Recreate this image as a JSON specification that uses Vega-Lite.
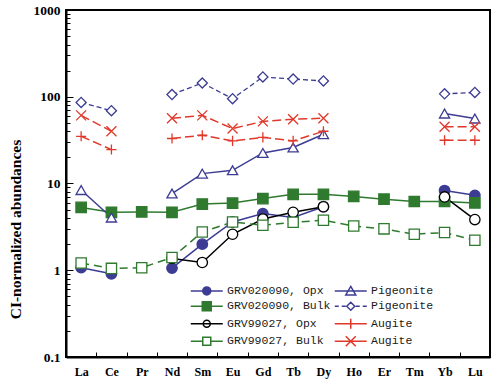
{
  "$schema": "https://vega.github.io/schema/vega-lite/v6.json",
  "width": 424,
  "height": 347,
  "autosize": {"type": "none"},
  "padding": {"left": 66, "top": 10, "right": 10, "bottom": 34},
  "background": "white",
  "config": {
    "view": {"stroke": "black", "strokeWidth": 2},
    "axis": {"domainColor": "black", "domainWidth": 2, "tickColor": "black", "tickWidth": 1, "labelColor": "black", "grid": false}
  },
  "data": {
    "values": [
      {"el": "La", "n": 57, "s": "GRV020090, Opx", "seg": 1, "v": 1.07},
      {"el": "Ce", "n": 58, "s": "GRV020090, Opx", "seg": 1, "v": 0.91},
      {"el": "Nd", "n": 60, "s": "GRV020090, Opx", "seg": 2, "v": 1.06},
      {"el": "Sm", "n": 62, "s": "GRV020090, Opx", "seg": 2, "v": 2.0},
      {"el": "Eu", "n": 63, "s": "GRV020090, Opx", "seg": 2, "v": 3.6},
      {"el": "Gd", "n": 64, "s": "GRV020090, Opx", "seg": 2, "v": 4.5},
      {"el": "Tb", "n": 65, "s": "GRV020090, Opx", "seg": 2, "v": 4.05},
      {"el": "Dy", "n": 66, "s": "GRV020090, Opx", "seg": 2, "v": 5.4},
      {"el": "Yb", "n": 70, "s": "GRV020090, Opx", "seg": 3, "v": 8.3},
      {"el": "Lu", "n": 71, "s": "GRV020090, Opx", "seg": 3, "v": 7.3},

      {"el": "La", "n": 57, "s": "GRV020090, Bulk", "seg": 1, "v": 5.3},
      {"el": "Ce", "n": 58, "s": "GRV020090, Bulk", "seg": 1, "v": 4.66},
      {"el": "Pr", "n": 59, "s": "GRV020090, Bulk", "seg": 1, "v": 4.7},
      {"el": "Nd", "n": 60, "s": "GRV020090, Bulk", "seg": 1, "v": 4.66},
      {"el": "Sm", "n": 62, "s": "GRV020090, Bulk", "seg": 1, "v": 5.8},
      {"el": "Eu", "n": 63, "s": "GRV020090, Bulk", "seg": 1, "v": 5.95},
      {"el": "Gd", "n": 64, "s": "GRV020090, Bulk", "seg": 1, "v": 6.7},
      {"el": "Tb", "n": 65, "s": "GRV020090, Bulk", "seg": 1, "v": 7.5},
      {"el": "Dy", "n": 66, "s": "GRV020090, Bulk", "seg": 1, "v": 7.5},
      {"el": "Ho", "n": 67, "s": "GRV020090, Bulk", "seg": 1, "v": 7.1},
      {"el": "Er", "n": 68, "s": "GRV020090, Bulk", "seg": 1, "v": 6.6},
      {"el": "Tm", "n": 69, "s": "GRV020090, Bulk", "seg": 1, "v": 6.2},
      {"el": "Yb", "n": 70, "s": "GRV020090, Bulk", "seg": 1, "v": 6.2},
      {"el": "Lu", "n": 71, "s": "GRV020090, Bulk", "seg": 1, "v": 5.97},

      {"el": "Nd", "n": 60, "s": "GRV99027, Opx", "seg": 2, "v": 1.37},
      {"el": "Sm", "n": 62, "s": "GRV99027, Opx", "seg": 2, "v": 1.23},
      {"el": "Eu", "n": 63, "s": "GRV99027, Opx", "seg": 2, "v": 2.6},
      {"el": "Gd", "n": 64, "s": "GRV99027, Opx", "seg": 2, "v": 3.9},
      {"el": "Tb", "n": 65, "s": "GRV99027, Opx", "seg": 2, "v": 4.66},
      {"el": "Dy", "n": 66, "s": "GRV99027, Opx", "seg": 2, "v": 5.4},
      {"el": "Yb", "n": 70, "s": "GRV99027, Opx", "seg": 3, "v": 7.0},
      {"el": "Lu", "n": 71, "s": "GRV99027, Opx", "seg": 3, "v": 3.84},

      {"el": "La", "n": 57, "s": "GRV99027, Bulk", "seg": 1, "v": 1.21},
      {"el": "Ce", "n": 58, "s": "GRV99027, Bulk", "seg": 1, "v": 1.05},
      {"el": "Pr", "n": 59, "s": "GRV99027, Bulk", "seg": 1, "v": 1.07},
      {"el": "Nd", "n": 60, "s": "GRV99027, Bulk", "seg": 1, "v": 1.4},
      {"el": "Sm", "n": 62, "s": "GRV99027, Bulk", "seg": 1, "v": 2.76},
      {"el": "Eu", "n": 63, "s": "GRV99027, Bulk", "seg": 1, "v": 3.6},
      {"el": "Gd", "n": 64, "s": "GRV99027, Bulk", "seg": 1, "v": 3.3},
      {"el": "Tb", "n": 65, "s": "GRV99027, Bulk", "seg": 1, "v": 3.57},
      {"el": "Dy", "n": 66, "s": "GRV99027, Bulk", "seg": 1, "v": 3.77},
      {"el": "Ho", "n": 67, "s": "GRV99027, Bulk", "seg": 1, "v": 3.24},
      {"el": "Er", "n": 68, "s": "GRV99027, Bulk", "seg": 1, "v": 3.0},
      {"el": "Tm", "n": 69, "s": "GRV99027, Bulk", "seg": 1, "v": 2.6},
      {"el": "Yb", "n": 70, "s": "GRV99027, Bulk", "seg": 1, "v": 2.72},
      {"el": "Lu", "n": 71, "s": "GRV99027, Bulk", "seg": 1, "v": 2.22},

      {"el": "La", "n": 57, "s": "Pigeonite|1", "seg": 1, "v": 8.4},
      {"el": "Ce", "n": 58, "s": "Pigeonite|1", "seg": 1, "v": 4.05},
      {"el": "Nd", "n": 60, "s": "Pigeonite|1", "seg": 2, "v": 7.66},
      {"el": "Sm", "n": 62, "s": "Pigeonite|1", "seg": 2, "v": 13.0},
      {"el": "Eu", "n": 63, "s": "Pigeonite|1", "seg": 2, "v": 14.2},
      {"el": "Gd", "n": 64, "s": "Pigeonite|1", "seg": 2, "v": 22.5},
      {"el": "Tb", "n": 65, "s": "Pigeonite|1", "seg": 2, "v": 26.0},
      {"el": "Dy", "n": 66, "s": "Pigeonite|1", "seg": 2, "v": 37.0},
      {"el": "Yb", "n": 70, "s": "Pigeonite|1", "seg": 3, "v": 64.0},
      {"el": "Lu", "n": 71, "s": "Pigeonite|1", "seg": 3, "v": 56.0},

      {"el": "La", "n": 57, "s": "Pigeonite|2", "seg": 1, "v": 86},
      {"el": "Ce", "n": 58, "s": "Pigeonite|2", "seg": 1, "v": 69},
      {"el": "Nd", "n": 60, "s": "Pigeonite|2", "seg": 2, "v": 106},
      {"el": "Sm", "n": 62, "s": "Pigeonite|2", "seg": 2, "v": 144},
      {"el": "Eu", "n": 63, "s": "Pigeonite|2", "seg": 2, "v": 95},
      {"el": "Gd", "n": 64, "s": "Pigeonite|2", "seg": 2, "v": 169},
      {"el": "Tb", "n": 65, "s": "Pigeonite|2", "seg": 2, "v": 160},
      {"el": "Dy", "n": 66, "s": "Pigeonite|2", "seg": 2, "v": 152},
      {"el": "Yb", "n": 70, "s": "Pigeonite|2", "seg": 3, "v": 108},
      {"el": "Lu", "n": 71, "s": "Pigeonite|2", "seg": 3, "v": 112},

      {"el": "La", "n": 57, "s": "Augite|1", "seg": 1, "v": 35},
      {"el": "Ce", "n": 58, "s": "Augite|1", "seg": 1, "v": 24.6},
      {"el": "Nd", "n": 60, "s": "Augite|1", "seg": 2, "v": 33},
      {"el": "Sm", "n": 62, "s": "Augite|1", "seg": 2, "v": 36},
      {"el": "Eu", "n": 63, "s": "Augite|1", "seg": 2, "v": 31},
      {"el": "Gd", "n": 64, "s": "Augite|1", "seg": 2, "v": 34},
      {"el": "Tb", "n": 65, "s": "Augite|1", "seg": 2, "v": 31},
      {"el": "Dy", "n": 66, "s": "Augite|1", "seg": 2, "v": 40},
      {"el": "Yb", "n": 70, "s": "Augite|1", "seg": 3, "v": 31.5},
      {"el": "Lu", "n": 71, "s": "Augite|1", "seg": 3, "v": 31.5},

      {"el": "La", "n": 57, "s": "Augite|2", "seg": 1, "v": 61},
      {"el": "Ce", "n": 58, "s": "Augite|2", "seg": 1, "v": 40},
      {"el": "Nd", "n": 60, "s": "Augite|2", "seg": 2, "v": 56.5},
      {"el": "Sm", "n": 62, "s": "Augite|2", "seg": 2, "v": 61},
      {"el": "Eu", "n": 63, "s": "Augite|2", "seg": 2, "v": 43},
      {"el": "Gd", "n": 64, "s": "Augite|2", "seg": 2, "v": 52},
      {"el": "Tb", "n": 65, "s": "Augite|2", "seg": 2, "v": 55},
      {"el": "Dy", "n": 66, "s": "Augite|2", "seg": 2, "v": 56.5},
      {"el": "Yb", "n": 70, "s": "Augite|2", "seg": 3, "v": 45},
      {"el": "Lu", "n": 71, "s": "Augite|2", "seg": 3, "v": 45}
    ]
  },
  "encoding": {
    "x": {
      "field": "el", "type": "nominal",
      "scale": {"type": "band", "domain": ["La","Ce","Pr","Nd","Sm","Eu","Gd","Tb","Dy","Ho","Er","Tm","Yb","Lu"], "paddingInner": 0, "paddingOuter": 0},
      "axis": {"title": null, "tickBand": "extent", "tickSize": -5, "labelPadding": 14, "labelAngle": 0, "labelFont": "Liberation Serif", "labelFontWeight": "bold", "labelFontSize": 12, "labelBaseline": "top"}
    },
    "y": {
      "field": "v", "type": "quantitative",
      "scale": {"type": "log", "domain": [0.1, 1000], "nice": false},
      "axis": {
        "title": "CI-normalized abundances",
        "titleFont": "Liberation Serif", "titleFontSize": 15.5, "titleFontWeight": "bold", "titleColor": "black",
        "titleAngle": -90, "titleX": -51, "titleY": 219, "titleAlign": "center", "titleBaseline": "middle",
        "values": [0.1,0.2,0.3,0.4,0.5,0.6,0.7,0.8,0.9,1,2,3,4,5,6,7,8,9,10,20,30,40,50,60,70,80,90,100,200,300,400,500,600,700,800,900,1000],
        "labelExpr": "indexof([0.1,1,10,100,1000], datum.value) >= 0 ? '' + datum.value : ''",
        "tickSize": {"condition": {"test": "indexof([0.1,1,10,100,1000], datum.value) >= 0", "value": -7}, "value": -4},
        "labelPadding": 13,
        "labelFont": "Liberation Serif", "labelFontWeight": "bold", "labelFontSize": 13.5
      }
    },
    "color": {
      "field": "s", "type": "nominal",
      "scale": {
        "domain": ["GRV020090, Opx","GRV020090, Bulk","GRV99027, Opx","GRV99027, Bulk","Pigeonite|1","Pigeonite|2","Augite|1","Augite|2"],
        "range": ["#3c3c94","#2f7a2f","#000000","#2f7a2f","#3c3c94","#3c3c94","#e0392b","#e0392b"]
      },
      "legend": {
        "title": null, "orient": "none", "legendX": 121, "legendY": 275, "columns": 2,
        "columnPadding": -1, "rowPadding": 0.5, "symbolSize": 4, "symbolOffset": 14, "labelOffset": 14.5,
        "symbolStrokeWidth": 1.5,
        "symbolType": {"expr": "datum.value==='GRV020090, Opx' ? 'M-16,0H16M-4,0A4,4 0 1,0 4,0A4,4 0 1,0 -4,0Z' : datum.value==='GRV020090, Bulk' ? 'M-16,0H16M-4.5,-4.5H4.5V4.5H-4.5Z' : datum.value==='GRV99027, Opx' ? 'M-16,0H16M-3.5,0A3.5,3.5 0 1,0 3.5,0A3.5,3.5 0 1,0 -3.5,0Z' : datum.value==='GRV99027, Bulk' ? 'M-16,0H-4M4,0H16M-4,-4H4V4H-4Z' : datum.value==='Pigeonite|1' ? 'M-16,0H16M0,-4.5L5,4H-5Z' : datum.value==='Pigeonite|2' ? 'M-16,0H-12M-9,0H-5M5,0H9M12,0H16M0,-4L4,0L0,4L-4,0Z' : datum.value==='Augite|1' ? 'M-16,0H16M0,-5V5' : 'M-16,0H16M-5,-5L5,5M-5,5L5,-5'"},
        "symbolFillColor": {"expr": "datum.value==='GRV020090, Opx' ? '#3c3c94' : datum.value==='GRV020090, Bulk' ? '#2f7a2f' : indexof(datum.value, 'Augite') === 0 ? 'transparent' : 'white'"},
        "labelFont": "Liberation Mono", "labelFontSize": 11.5, "labelColor": "#1a1a1a",
        "labelExpr": "split(datum.label, '|')[0]"
      }
    },
    "detail": {"field": "seg", "type": "nominal"},
    "order": {"field": "n", "type": "quantitative"}
  },
  "layer": [
    {
      "transform": [{"filter": "datum.s !== 'Pigeonite|2' && datum.s !== 'GRV99027, Bulk' && indexof(datum.s, 'Augite') < 0"}],
      "mark": {"type": "line", "strokeWidth": 1.5}
    },
    {
      "transform": [{"filter": "datum.s === 'Pigeonite|2'"}],
      "mark": {"type": "line", "strokeWidth": 1.3, "strokeDash": [5, 3]}
    },
    {
      "transform": [{"filter": "datum.s === 'GRV99027, Bulk'"}],
      "mark": {"type": "line", "strokeWidth": 1.5, "strokeDash": [8, 5]}
    },
    {
      "transform": [{"filter": "indexof(datum.s, 'Augite') === 0"}],
      "mark": {"type": "line", "strokeWidth": 1.5, "strokeDash": [9, 4]}
    },
    {
      "mark": {"type": "point", "opacity": 1, "strokeWidth": 1.3},
      "encoding": {
        "color": null,
        "stroke": {
          "field": "s", "type": "nominal", "legend": null,
          "scale": {
            "domain": ["Augite|2","Augite|1","Pigeonite|2","Pigeonite|1","GRV99027, Bulk","GRV99027, Opx","GRV020090, Bulk","GRV020090, Opx"],
            "range": ["#e0392b","#e0392b","#3c3c94","#3c3c94","#2f7a2f","#000000","#2f7a2f","#3c3c94"]
          }
        },
        "fill": {
          "field": "s", "type": "nominal", "legend": null,
          "scale": {
            "domain": ["Augite|2","Augite|1","Pigeonite|2","Pigeonite|1","GRV99027, Bulk","GRV99027, Opx","GRV020090, Bulk","GRV020090, Opx"],
            "range": ["transparent","transparent","white","white","white","white","#2f7a2f","#3c3c94"]
          }
        },
        "shape": {
          "field": "s", "type": "nominal", "legend": null,
          "scale": {
            "domain": ["Augite|2","Augite|1","Pigeonite|2","Pigeonite|1","GRV99027, Bulk","GRV99027, Opx","GRV020090, Bulk","GRV020090, Opx"],
            "range": ["M-1,-1L1,1M-1,1L1,-1","M-1,0H1M0,-1V1","diamond","triangle-up","square","circle","square","circle"]
          }
        },
        "size": {
          "field": "s", "type": "nominal", "legend": null,
          "scale": {
            "domain": ["Augite|2","Augite|1","Pigeonite|2","Pigeonite|1","GRV99027, Bulk","GRV99027, Opx","GRV020090, Bulk","GRV020090, Opx"],
            "range": [100, 110, 70, 100, 81, 64, 100, 72]
          }
        }
      }
    }
  ]
}
